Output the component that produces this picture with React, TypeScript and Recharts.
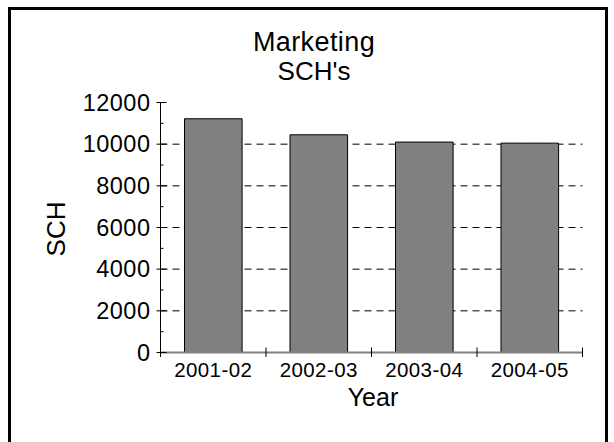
import React from 'react';
import { BarChart, Bar, XAxis, YAxis, CartesianGrid, Label } from 'recharts';

const categories = ['2001-02', '2002-03', '2003-04', '2004-05'];
const schValues = [11220, 10450, 10100, 10050];
const yTicks = [0, 2000, 4000, 6000, 8000, 10000, 12000];
const gridValues = [2000, 4000, 6000, 8000, 10000];
const titleLines = ['Marketing', "SCH's"];
const xAxisTitle = 'Year';
const yAxisTitle = 'SCH';

const data = categories.map((year, i) => ({ year, sch: schValues[i] }));

const W = 614;
const H = 442;
const FONT = '"Liberation Sans", Arial, Helvetica, sans-serif';
const M_TOP = 102.5;
const M_RIGHT = 31.5;
const Y_W = 160.5;
const X_H = 40;
const M_BOTTOM = 49.5;
const PLOT_H = H - M_TOP - M_BOTTOM - X_H;
const PLOT_W = W - Y_W - M_RIGHT;
const MINOR_STEP = PLOT_H / (yTicks.length - 1) / 2;
const BAND = PLOT_W / categories.length;

const YTick = (props: any) => {
  const { x, y, payload } = props;
  const v = payload.value;
  return (
    <g>
      <line x1={x - 4} x2={x + 6} y1={y} y2={y} stroke="#000" strokeWidth={1} />
      {v > 0 && (
        <line x1={x} x2={x + 3} y1={y + MINOR_STEP} y2={y + MINOR_STEP} stroke="#000" strokeWidth={1} />
      )}
      <text x={x - 10} y={y} textAnchor="end" dominantBaseline="central" fontSize={23.5} letterSpacing={0.5} fontFamily={FONT} fill="#000">
        {v}
      </text>
    </g>
  );
};

const XTick = (props: any) => {
  const { x, y, payload, index } = props;
  return (
    <g>
      {index === 0 && (
        <line x1={x - BAND / 2} x2={x - BAND / 2} y1={y - 5} y2={y + 4.5} stroke="#000" strokeWidth={1} />
      )}
      <line x1={x + BAND / 2} x2={x + BAND / 2} y1={y - 5} y2={y + 4.5} stroke="#000" strokeWidth={1} />
      <text x={x} y={y + 24.8} textAnchor="middle" fontSize={20.5} letterSpacing={0.4} fontFamily={FONT} fill="#000">
        {payload.value}
      </text>
    </g>
  );
};

const YLabel = (props: any) => {
  const vb = props.viewBox || {};
  const cx = 56;
  const cy = (vb.y ?? M_TOP) + (vb.height ?? PLOT_H) / 2 + 1.5;
  return (
    <text
      x={cx}
      y={cy}
      transform={`rotate(-90 ${cx} ${cy})`}
      textAnchor="middle"
      dominantBaseline="central"
      fontSize={26}
      fontFamily={FONT}
      fill="#000"
    >
      {yAxisTitle}
    </text>
  );
};

const XLabel = (props: any) => {
  const vb = props.viewBox || {};
  const cx = (vb.x ?? Y_W) + (vb.width ?? PLOT_W) / 2 + 1.5;
  return (
    <text x={cx} y={406} textAnchor="middle" fontSize={25} fontFamily={FONT} fill="#000">
      {xAxisTitle}
    </text>
  );
};

export default function App() {
  return (
    <div style={{ position: 'absolute', left: 0, top: 0, width: W, height: H, background: '#fff', overflow: 'hidden' }}>
      <div
        style={{
          position: 'absolute',
          left: 8,
          top: 7,
          width: 600,
          height: H,
          borderLeft: '3px solid #000',
          borderTop: '3px solid #000',
          borderRight: '3px solid #000',
          boxSizing: 'border-box',
        }}
      />
      <svg width={W} height={100} style={{ position: 'absolute', left: 0, top: 0 }}>
        <text x={314} y={51} textAnchor="middle" fontSize={27} letterSpacing={0.4} fontFamily={FONT} fill="#000">
          {titleLines[0]}
        </text>
        <text x={314} y={80} textAnchor="middle" fontSize={26} fontFamily={FONT} fill="#000">
          {titleLines[1]}
        </text>
      </svg>
      <div style={{ position: 'absolute', left: 0, top: 0 }}>
        <BarChart
          width={W}
          height={H}
          data={data}
          margin={{ top: M_TOP, right: M_RIGHT, bottom: M_BOTTOM, left: 0 }}
          barSize={57.6}
        >
          <CartesianGrid
            vertical={false}
            horizontalValues={gridValues}
            stroke="#000"
            strokeDasharray="7 5"
          />
          <XAxis
            xAxisId="top"
            orientation="top"
            dataKey="year"
            height={0}
            tick={false}
            tickLine={false}
            axisLine={{ stroke: '#808080', strokeWidth: 1 }}
          />
          <YAxis
            yAxisId="right"
            orientation="right"
            width={0}
            domain={[0, 12000]}
            tick={false}
            tickLine={false}
            axisLine={{ stroke: '#808080', strokeWidth: 1 }}
          />
          <XAxis
            dataKey="year"
            height={X_H}
            tickSize={0}
            tickMargin={0}
            tickLine={false}
            tick={<XTick />}
            axisLine={{ stroke: '#808080', strokeWidth: 2 }}
            interval={0}
          >
            <Label content={<XLabel />} />
          </XAxis>
          <YAxis
            width={Y_W}
            domain={[0, 12000]}
            ticks={yTicks}
            interval={0}
            tickSize={0}
            tickMargin={0}
            tickLine={false}
            tick={<YTick />}
            axisLine={{ stroke: '#000', strokeWidth: 1 }}
          >
            <Label content={<YLabel />} />
          </YAxis>
          <Bar dataKey="sch" fill="#808080" stroke="#000" strokeWidth={1} isAnimationActive={false} />
        </BarChart>
      </div>
    </div>
  );
}
